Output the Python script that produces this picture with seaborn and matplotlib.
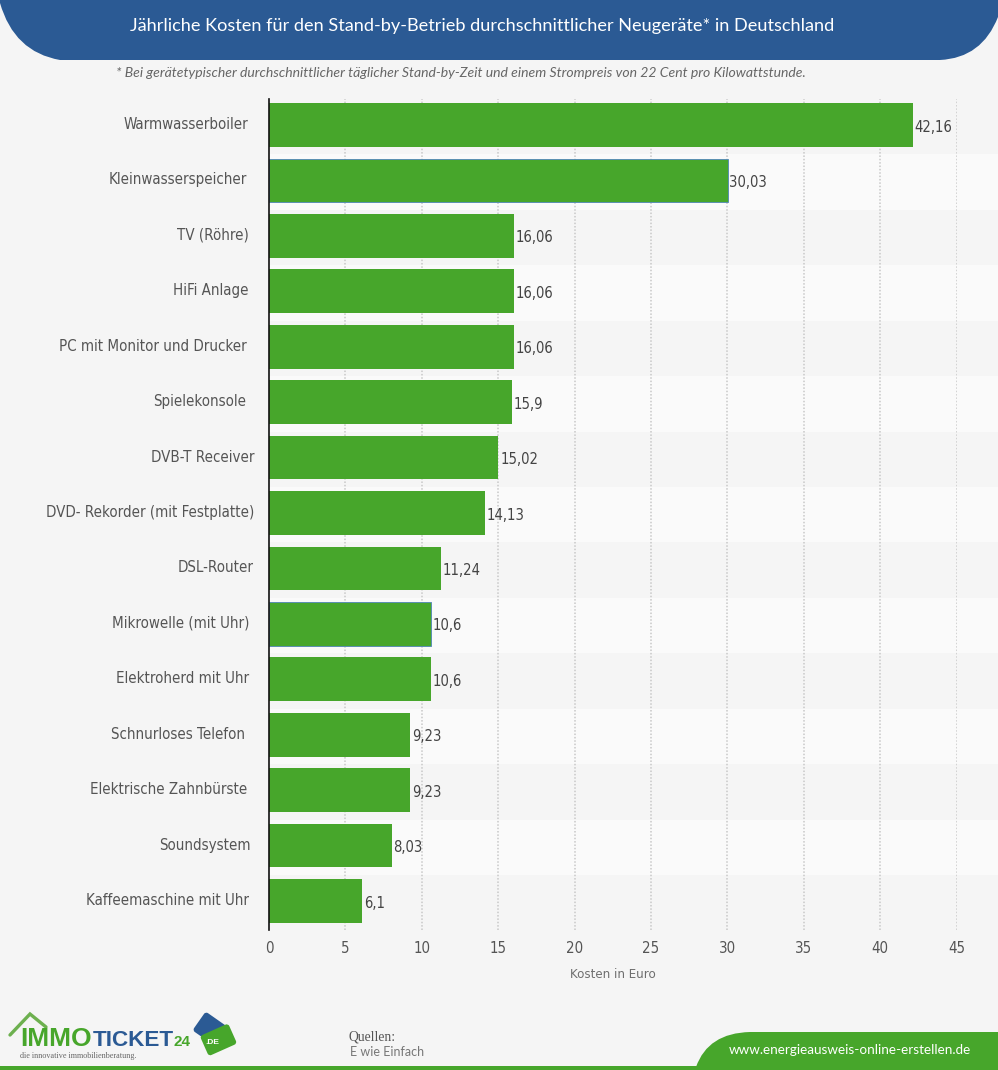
"""
Jaehrliche Stand-by-Kosten als horizontales Balkendiagramm
"""
import matplotlib
matplotlib.use("Agg")
import matplotlib.pyplot as plt
import matplotlib.font_manager as fm
import pandas as pd
import seaborn as sns
from matplotlib.patches import FancyBboxPatch, PathPatch, Rectangle
from matplotlib.path import Path as MplPath
from matplotlib.transforms import Affine2D, ScaledTranslation

devices = [
    "Warmwasserboiler", "Kleinwasserspeicher", "TV (Röhre)", "HiFi Anlage",
    "PC mit Monitor und Drucker", "Spielekonsole", "DVB-T Receiver",
    "DVD- Rekorder (mit Festplatte)", "DSL-Router", "Mikrowelle (mit Uhr)",
    "Elektroherd mit Uhr", "Schnurloses Telefon", "Elektrische Zahnbürste",
    "Soundsystem", "Kaffeemaschine mit Uhr",
]
costs = [42.16, 30.03, 16.06, 16.06, 16.06, 15.9, 15.02, 14.13, 11.24, 10.6, 10.6, 9.23, 9.23, 8.03, 6.1]
value_labels = ["42,16", "30,03", "16,06", "16,06", "16,06", "15,9", "15,02", "14,13",
                "11,24", "10,6", "10,6", "9,23", "9,23", "8,03", "6,1"]
x_ticks = [0, 5, 10, 15, 20, 25, 30, 35, 40, 45]
blue_edged = ["Kleinwasserspeicher", "Mikrowelle (mit Uhr)"]
# Abstand des Labelendes zur Achse (Pixel), im Original nicht buendig
label_gaps = [16, 17, 15, 16, 17, 18, 10, 10, 11, 15, 15, 19, 17, 14, 15]

TITLE = "Jährliche Kosten für den Stand-by-Betrieb durchschnittlicher Neugeräte* in Deutschland"
NOTE = "* Bei gerätetypischer durchschnittlicher täglicher Stand-by-Zeit und einem Strompreis von 22 Cent pro Kilowattstunde."

BG = "#f5f5f5"
STRIPE = "#fafafa"
GREEN = "#47a62b"
BLUE = "#2b5a94"
GREY = "#555555"
W, H = 998, 1070


def condensed_font():
    """Nimmt DejaVu Sans Condensed, falls installiert"""
    names = [f.fname for f in fm.fontManager.ttflist
             if f.name == "DejaVu Sans" and f.stretch == "condensed"
             and f.style == "normal" and f.weight in (400, "normal")]
    return {"stretch": "condensed"} if names else {}


def draw_chart(ax):
    cond = condensed_font()
    df = pd.DataFrame({"device": devices, "cost": costs})

    # Streifen im Hintergrund, laufen bis zum rechten Rand
    for i in range(1, len(devices), 2):
        ax.add_patch(Rectangle((0, i - 0.47), 1.07, 1, transform=ax.get_yaxis_transform(),
                               color=STRIPE, lw=0, zorder=0, clip_on=False))

    sns.barplot(data=df, x="cost", y="device", orient="h", color=GREEN, saturation=1,
                width=0.79, ax=ax, zorder=3)
    for bar, name in zip(ax.patches[-len(devices):], devices):
        if name in blue_edged:
            bar.set_edgecolor("#4f86b8")
            bar.set_linewidth(0.6)
        else:
            bar.set_linewidth(0)

    for i, (val, txt) in enumerate(zip(costs, value_labels)):
        ax.annotate(txt, (val, i), xytext=(1.2, -1.5), textcoords="offset points", va="center",
                    ha="left", fontsize=10.6, color="#444444", **cond)

    ax.set_xlim(0, 45)
    ax.set_ylim(14.523, -0.469)
    ax.set_xticks(x_ticks)
    ax.set_xticklabels([str(t) for t in x_ticks], fontsize=10.8, color=GREY, **cond)
    ax.tick_params(axis="both", length=0)
    ax.tick_params(axis="x", pad=8)
    ax.grid(False)
    ax.xaxis.grid(True, ls=(0, (1, 1.2)), color="#c8c8c8", lw=1.1, zorder=1)
    ax.set_axisbelow(True)
    ax.xaxis.get_gridlines()[0].set_visible(False)

    ax.set_ylabel("")
    ax.set_xlabel("Kosten in Euro", fontsize=8.6, color="#6e6e6e", labelpad=8.5)
    ax.set_yticks(range(len(devices)))
    ax.set_yticklabels(devices, fontsize=10.8, color=GREY, **cond)
    for lab, gap in zip(ax.get_yticklabels(), label_gaps):
        lab.set_transform(lab.get_transform() + ScaledTranslation(-gap / 100, 2 / 100, ax.figure.dpi_scale_trans))

    for side in ["top", "right", "bottom"]:
        ax.spines[side].set_visible(False)
    ax.spines["left"].set_color("#111111")
    ax.spines["left"].set_linewidth(1.2)
    ax.spines["left"].set_zorder(5)


def draw_frame(over):
    # Kopfbereich
    head = MplPath(
        [(0, 0), (0, 3), (14, 52), (60, 60), (940, 60), (982, 58), (998, 17), (998, 0), (0, 0)],
        [MplPath.MOVETO, MplPath.LINETO, MplPath.CURVE3, MplPath.CURVE3, MplPath.LINETO,
         MplPath.CURVE3, MplPath.CURVE3, MplPath.LINETO, MplPath.CLOSEPOLY],
    )
    over.add_patch(PathPatch(head, fc=BLUE, lw=0))
    over.text(482, 26, TITLE, color="white", fontsize=13.05, family="Lato", ha="center", va="center")
    over.text(461, 73, NOTE, color="#666666", fontsize=10.1, family="Lato", style="italic", ha="center", va="center")

    # Fussbereich
    over.add_patch(Rectangle((0, 1066), W, 4, fc=GREEN, lw=0))
    foot = MplPath(
        [(696, 1067), (708, 1033), (750, 1032), (998, 1032), (998, 1067), (696, 1067)],
        [MplPath.MOVETO, MplPath.CURVE3, MplPath.CURVE3, MplPath.LINETO, MplPath.LINETO, MplPath.CLOSEPOLY],
    )
    over.add_patch(PathPatch(foot, fc=GREEN, lw=0))
    over.text(729, 1050, "www.energieausweis-online-erstellen.de", color="white", fontsize=9.75,
              family="Lato", va="center")
    over.text(349, 1037, "Quellen:", color="#555555", fontsize=9.8, family="Liberation Serif", va="center")
    over.text(350, 1052, "E wie Einfach", color="#777777", fontsize=9, family="Lato", va="center")

    # Logo
    over.plot([10, 30, 46], [1035, 1014, 1027], color="#6db04f", lw=2.4, solid_joinstyle="miter")
    over.text(20, 1046, "IMMO", color=GREEN, fontsize=19, family="Liberation Sans", weight="bold", va="baseline")
    over.text(93, 1046, "TICKET", color=BLUE, fontsize=16.2, family="Liberation Sans", weight="bold", va="baseline")
    over.text(174, 1046, "24", color=GREEN, fontsize=11, family="Liberation Sans", weight="bold", va="baseline")
    over.text(20, 1055.5, "die innovative immobilienberatung.", color="#666666", fontsize=5.9,
              family="Liberation Serif", va="center")
    blue_card = FancyBboxPatch((197, 1017), 27, 23, boxstyle="round,pad=0,rounding_size=3", fc=BLUE, lw=0,
                               transform=Affine2D().rotate_deg_around(210, 1028, 35) + over.transData)
    green_card = FancyBboxPatch((203, 1029), 31, 22, boxstyle="round,pad=0,rounding_size=3", fc=GREEN, lw=0,
                                transform=Affine2D().rotate_deg_around(218, 1040, -24) + over.transData)
    over.add_patch(blue_card)
    over.add_patch(green_card)
    over.text(212, 1043, ".DE", color="white", fontsize=6, weight="bold", family="Liberation Sans",
              ha="center", va="center")


def main():
    sns.set_theme(style="white")
    plt.rcParams["font.family"] = ["DejaVu Sans"]

    fig = plt.figure(figsize=(W / 100, H / 100), dpi=100, facecolor=BG)
    ax = fig.add_axes([269 / W, 1 - 930 / H, (956.5 - 269) / W, (930 - 99) / H], facecolor=BG)
    draw_chart(ax)

    over = fig.add_axes([0, 0, 1, 1], facecolor="none", zorder=10)
    over.set_xlim(0, W)
    over.set_ylim(H, 0)
    over.axis("off")
    draw_frame(over)

    fig.savefig("out.png", dpi=100, facecolor=BG)
    plt.close(fig)


if __name__ == "__main__":
    main()
